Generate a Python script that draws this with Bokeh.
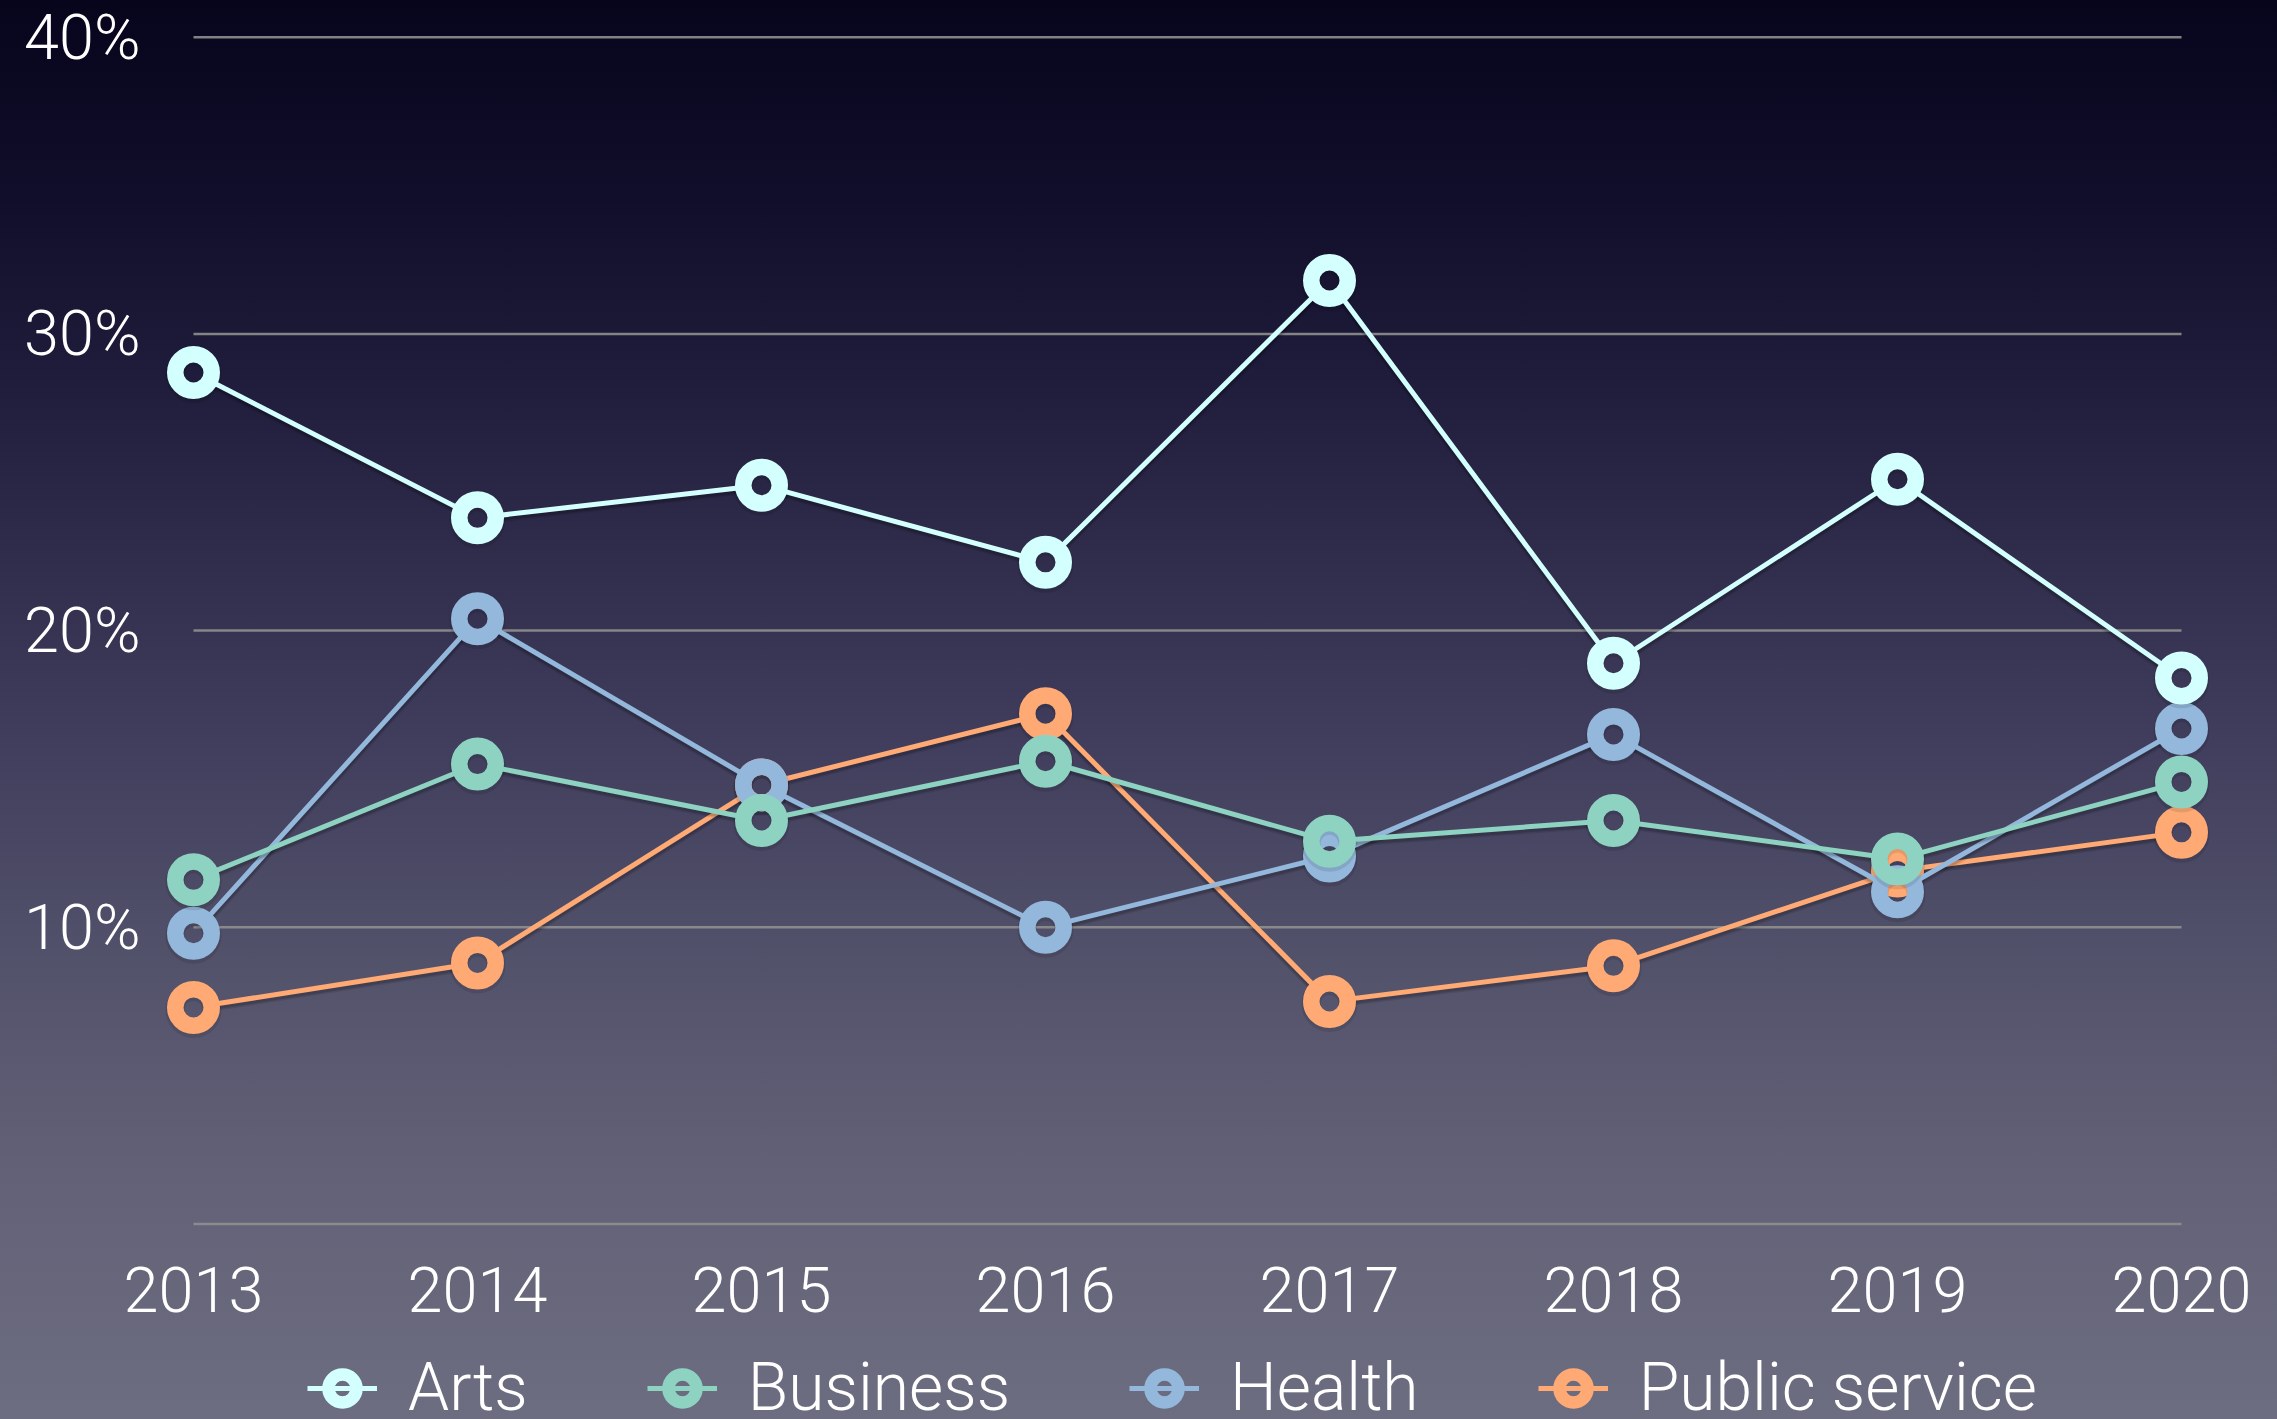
import math
from bokeh.plotting import figure
from bokeh.layouts import column
from bokeh.models import Range1d, Legend, LegendItem, FixedTicker, CustomJSTickFormatter
from bokeh.embed import file_html
from bokeh.resources import INLINE

# ---------------- data ----------------
years = [2013, 2014, 2015, 2016, 2017, 2018, 2019, 2020]
arts = [28.7, 23.8, 24.9, 22.3, 31.8, 18.9, 25.1, 18.4]
business = [11.6, 15.5, 13.6, 15.6, 12.9, 13.6, 12.3, 14.9]
health = [9.8, 20.4, 14.8, 10.0, 12.4, 16.5, 11.2, 16.7]
public_service = [7.3, 8.8, 14.8, 17.2, 7.5, 8.7, 11.9, 13.2]
series_names = ["Arts", "Business", "Health", "Public service"]
series_values = [arts, business, health, public_service]
grid_values = [0, 10, 20, 30, 40]
y_tick_values = [10, 20, 30, 40]

# ---------------- style / layout ----------------
colors = ["#d4ffff", "#8ed3c2", "#94b8dc", "#ffaa74"]
FONT = "Roboto Light"
W, H = 2277, 1419
H_MAIN = 1350
H_LEG = H - H_MAIN
px_per_year = 284.0
px_per_pct = 29.67
left_b, right_b, top_b, bottom_b = 150, 52, 0, 105
frame_w = W - left_b - right_b
frame_h = H_MAIN - top_b - bottom_b
first_year_px = 43.0   # frame left -> first year
top_grid_px = 36.7     # frame top -> top gridline
MARK_SIZE, MARK_LW = 36.5, 16.5
line_gap_px = 17.0     # lines stop inside the ring so the hole stays clear

x0 = years[0] - first_year_px / px_per_year
x1 = x0 + frame_w / px_per_year
y1 = grid_values[-1] + top_grid_px / px_per_pct
y0 = y1 - frame_h / px_per_pct


def trimmed_segments(xs, ys, gap):
    """Consecutive segments of a series, each shortened by `gap` screen px at both ends."""
    sx0, sy0, sx1, sy1 = [], [], [], []
    for (xa, ya), (xb, yb) in zip(zip(xs, ys), zip(xs[1:], ys[1:])):
        dxp = (xb - xa) * px_per_year
        dyp = (yb - ya) * px_per_pct
        f = gap / math.hypot(dxp, dyp)
        sx0.append(xa + f * (xb - xa)); sy0.append(ya + f * (yb - ya))
        sx1.append(xb - f * (xb - xa)); sy1.append(yb - f * (yb - ya))
    return sx0, sy0, sx1, sy1


p = figure(width=W, height=H_MAIN, x_range=Range1d(x0, x1), y_range=Range1d(y0, y1),
           output_backend="svg", toolbar_location=None,
           min_border_left=left_b, min_border_right=right_b,
           min_border_top=top_b, min_border_bottom=bottom_b,
           background_fill_color=None, border_fill_color=None,
           outline_line_color=None)
p.grid.visible = False

shadow_px = 2.5
shadow_shift = shadow_px / px_per_pct
p.extra_y_ranges = {"shadow": Range1d(y0 + shadow_shift, y1 + shadow_shift)}

# axes
for ax in (p.xaxis[0], p.yaxis[0]):
    ax.axis_line_color = None
    ax.major_tick_line_color = None
    ax.minor_tick_line_color = None
    ax.major_tick_out = 0
    ax.major_tick_in = 0
    ax.major_label_text_color = "white"
    ax.major_label_text_font = FONT
    ax.major_label_text_font_size = "63px"

p.xaxis.ticker = FixedTicker(ticks=years)
p.xaxis.major_label_standoff = 21
p.yaxis.ticker = FixedTicker(ticks=y_tick_values)
p.yaxis.formatter = CustomJSTickFormatter(code="return tick.toFixed(0) + '%'")
p.yaxis.major_label_standoff = 10

# gridlines spanning first..last year
p.segment(x0=years[0], x1=years[-1], y0=grid_values, y1=grid_values,
          line_color="#8f8f8f", line_width=2.5, line_alpha=0.9)

# series (drawn bottom -> top), each with a soft drop shadow
for i in [3, 2, 1, 0]:
    vals = series_values[i]
    c = colors[i]
    a, b, cc, d = trimmed_segments(years, vals, line_gap_px)
    p.segment(x0=a, y0=b, x1=cc, y1=d, line_color="black", line_alpha=0.10,
              line_width=9, y_range_name="shadow")
    p.segment(x0=a, y0=b, x1=cc, y1=d, line_color="black", line_alpha=0.15,
              line_width=6, y_range_name="shadow")
    p.scatter(years, vals, size=37, line_width=19, fill_color=None,
              line_color="black", line_alpha=0.10, y_range_name="shadow")
    p.segment(x0=a, y0=b, x1=cc, y1=d, line_color=c, line_width=5)
    p.scatter(years, vals, size=MARK_SIZE, line_width=MARK_LW, fill_color=None, line_color=c)

# ---------------- legend strip (separate transparent figure) ----------------
lf = figure(width=W, height=H_LEG, x_range=Range1d(0, 1), y_range=Range1d(0, 1),
            output_backend="svg", toolbar_location=None,
            x_axis_location=None, y_axis_location=None, min_border=0,
            background_fill_color=None, border_fill_color=None,
            outline_line_color=None)
lf.grid.visible = False

items = []
for i, name in enumerate(series_names):
    lr = lf.line(years, series_values[i], line_color=colors[i], line_width=5, visible=False)
    sr = lf.scatter(years, series_values[i], size=28, line_width=12.5, fill_color=None,
                    line_color=colors[i], visible=False)
    items.append(LegendItem(label=name, renderers=[lr, sr]))

legend_glyph = 70
legend_h_est = 77
legend_center_y = 1384 - H_MAIN   # row centre inside the strip
legend_left_x = 307               # x of first legend glyph (page coords)
legend = Legend(items=items, orientation="horizontal",
                location=(legend_left_x - left_b,
                          H_LEG - (legend_center_y - legend_glyph / 2) - legend_h_est),
                spacing=119, glyph_width=legend_glyph, glyph_height=legend_glyph,
                label_standoff=31,
                label_text_font=FONT, label_text_font_size="66px",
                label_text_color="white", label_text_baseline="middle",
                padding=0, margin=0, background_fill_alpha=0,
                border_line_color=None, click_policy="none")
lf.add_layout(legend, "center")

layout = column(p, lf, spacing=0)

css = ("<style>html,body{margin:0;padding:0;overflow:hidden;}"
       "html{min-height:100%;background-color:#6e6e82;"
       "background-image:linear-gradient(180deg,#06051c 0%,#100e2a 14%,#1f1d3b 27%,"
       "#302e4c 40%,#413f5d 53%,#53526b 68%,#626177 83%,#6d6d81 100%);"
       "background-repeat:no-repeat;}body{background:transparent;}</style>")
html = file_html(layout, INLINE, title="Share by field").replace("</head>", css + "</head>", 1)
open("out.html", "w").write(html)
